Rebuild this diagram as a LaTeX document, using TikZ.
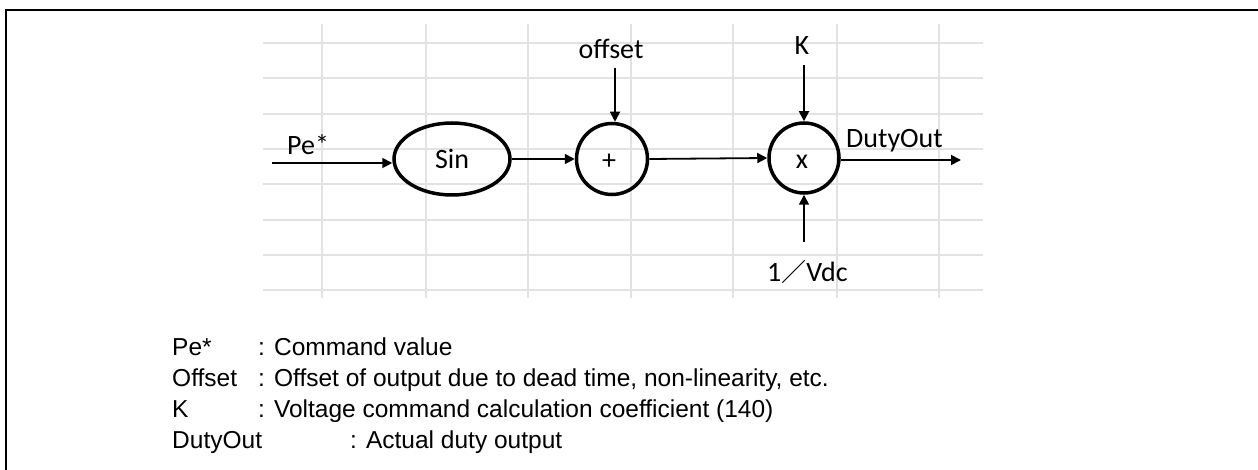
\documentclass[tikz,border=0pt]{standalone}
\usepackage{fontspec}
\usetikzlibrary{arrows.meta,shapes.geometric}
\newfontfamily\diafont{Carlito}
\newfontfamily\legfont{Liberation Sans}
\newfontfamily\cjk{Noto Sans CJK SC}
\definecolor{gridgray}{HTML}{E2E2E2}
\tikzset{
  blk/.style={draw, line width=3.5pt, inner sep=0pt, font=\diafont\fontsize{28}{32}\selectfont},
  sig/.style={line width=1.8pt, -{Triangle[length=10pt,width=10pt]}},
  lbl/.style={inner sep=0pt, font=\diafont\fontsize{28}{32}\selectfont},
  leg/.style={inner sep=0pt, anchor=base west, font=\legfont\fontsize{24.5}{28}\selectfont},
  gridln/.style={draw=gridgray, line width=1.2pt},
  frameln/.style={line width=2.2pt}
}
\begin{document}
\begin{tikzpicture}[x=1pt,y=-1pt]
\useasboundingbox (0,0) rectangle (1258,470);
% frame (top and left edges)
\draw[frameln] (6,471) -- (6,10) -- (1259,10);
% grid
\foreach \y in {43,78,114,149,184,220,255,290} \draw[gridln] (263,\y) -- (983,\y);
\foreach \x in {322,426,528,631,733,837,939} \draw[gridln] (\x,24) -- (\x,298);
% blocks
\node[blk, ellipse, minimum width=116pt, minimum height=72pt] (sin) at (452,159) {Sin};
\node[blk, circle, minimum size=71pt] (plus) at (612,159) {};
\node[lbl] (plusl) at (609,162) {+};
\node[blk, circle, minimum size=70pt] (times) at (804,158) {};
\node[lbl, anchor=base] (timesl) at (802,169) {x};
% inputs / outputs
\coordinate (pin) at (272,163);
\coordinate (offtop) at (615,68);
\coordinate (ktop) at (804,65);
\coordinate (vbot) at (804,242);
\coordinate (dout) at (961,160);
\draw[sig] (pin) -- (pin -| sin.west);
\draw[sig] (sin.east) -- (plus.west);
\draw[sig] (plus.east) -- (times.west);
\draw[sig] (times.east |- dout) -- (dout);
\draw[sig] (offtop) -- (offtop |- plus.north);
\draw[sig] (ktop) -- (times.north);
\draw[sig] (vbot) -- (times.south);
% labels
\node[lbl, anchor=base west] (lpe) at (287,155) {Pe*};
\node[lbl, anchor=base] (loff) at (611,59) {offset};
\node[lbl, anchor=base] (lk) at (802,55) {K};
\node[lbl, anchor=base west] (ldo) at (846,148) {DutyOut};
\node[lbl, anchor=base west] (lv) at (767,282) {1{\cjk\fontsize{25}{28}\selectfont ／}Vdc};
% legend
\node[leg] (n1) at (172,355) {Pe*};
\node[leg] (d1) at (258,355) {: Command value};
\node[leg] (n2) at (172,386) {Offset};
\node[leg] (d2) at (258,386) {: Offset of output due to dead time, non-linearity, etc.};
\node[leg] (n3) at (172,417) {K};
\node[leg] (d3) at (258,417) {: Voltage command calculation coefficient (140)};
\node[leg] (n4) at (172,448) {DutyOut};
\node[leg] (d4) at (350,448) {: Actual duty output};
\end{tikzpicture}
\end{document}
